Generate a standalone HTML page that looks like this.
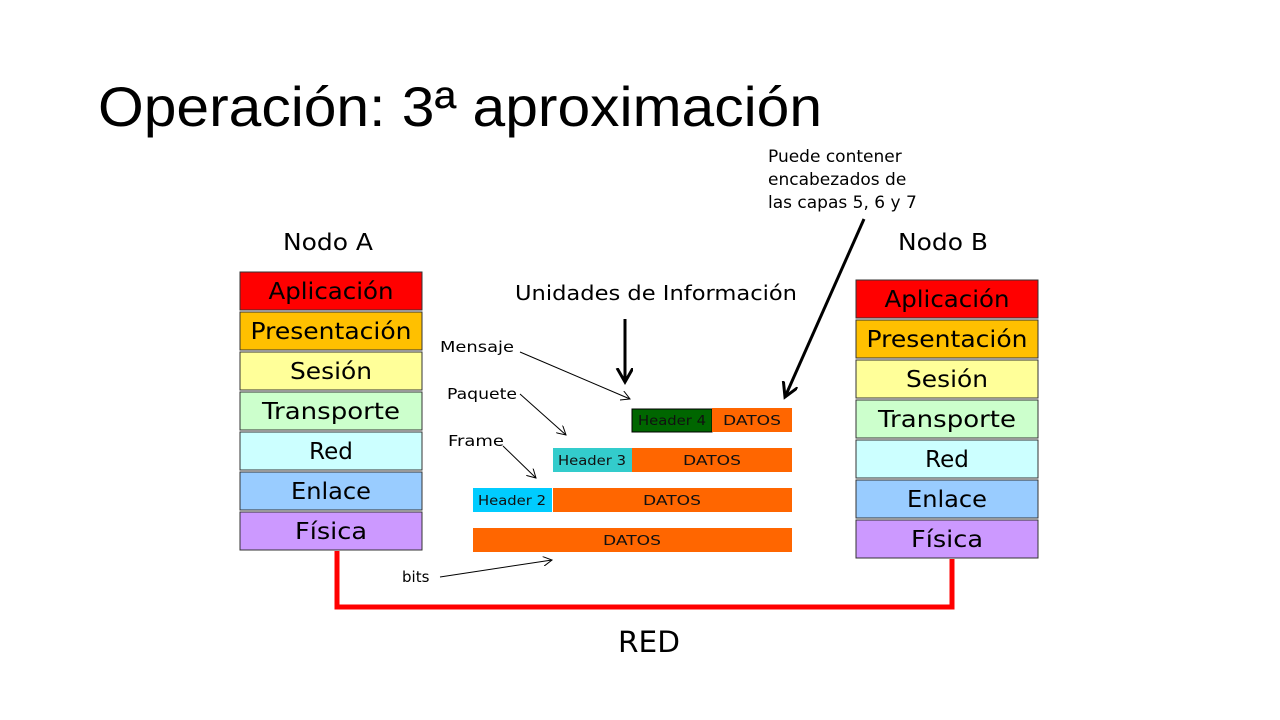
<!DOCTYPE html>
<html><head><meta charset="utf-8"><style>
html,body{margin:0;padding:0;background:#fff;}
svg{display:block;font-family:"Liberation Sans",sans-serif;}
.l{font-family:"DejaVu Sans","Liberation Sans",sans-serif;}
</style></head><body>
<svg width="1280" height="720" viewBox="0 0 1280 720" xmlns="http://www.w3.org/2000/svg">
<defs>
<marker id="ah" markerWidth="10" markerHeight="10" refX="9" refY="5" orient="auto" markerUnits="userSpaceOnUse"><path d="M0,0 L9,5 L0,10" fill="none" stroke="#000" stroke-width="1"/></marker>
<marker id="ab" markerWidth="18" markerHeight="18" refX="14" refY="8" orient="auto" markerUnits="userSpaceOnUse"><path d="M0,0 L14,8 L0,16" fill="none" stroke="#000" stroke-width="3"/></marker>
</defs>
<text x="98" y="126" font-size="56" fill="#000" textLength="724" lengthAdjust="spacingAndGlyphs">Operación: 3ª aproximación</text>

<g class="l" font-size="17" fill="#000">
<text x="768" y="162">Puede contener</text>
<text x="768" y="185">encabezados de</text>
<text x="768" y="208">las capas 5, 6 y 7</text>
</g>
<g class="l" font-size="23" text-anchor="middle">
<text x="328" y="250" textLength="90" lengthAdjust="spacingAndGlyphs">Nodo A</text>
<text x="943" y="250" textLength="90" lengthAdjust="spacingAndGlyphs">Nodo B</text>
</g>
<text class="l" x="656" y="300" font-size="20" text-anchor="middle" textLength="282" lengthAdjust="spacingAndGlyphs">Unidades de Información</text>

<g stroke="#333" stroke-width="1">
<rect x="240" y="272" width="182" height="38" fill="#f00"/>
<rect x="240" y="312" width="182" height="38" fill="#ffc000"/>
<rect x="240" y="352" width="182" height="38" fill="#ffff99"/>
<rect x="240" y="392" width="182" height="38" fill="#ccffcc"/>
<rect x="240" y="432" width="182" height="38" fill="#ccffff"/>
<rect x="240" y="472" width="182" height="38" fill="#99ccff"/>
<rect x="240" y="512" width="182" height="38" fill="#cc99ff"/>
<rect x="856" y="280" width="182" height="38" fill="#f00"/>
<rect x="856" y="320" width="182" height="38" fill="#ffc000"/>
<rect x="856" y="360" width="182" height="38" fill="#ffff99"/>
<rect x="856" y="400" width="182" height="38" fill="#ccffcc"/>
<rect x="856" y="440" width="182" height="38" fill="#ccffff"/>
<rect x="856" y="480" width="182" height="38" fill="#99ccff"/>
<rect x="856" y="520" width="182" height="38" fill="#cc99ff"/>
</g>
<g class="l" font-size="23" text-anchor="middle" fill="#000">
<text x="331" y="299" textLength="125" lengthAdjust="spacingAndGlyphs">Aplicación</text>
<text x="331" y="339" textLength="161" lengthAdjust="spacingAndGlyphs">Presentación</text>
<text x="331" y="379" textLength="82" lengthAdjust="spacingAndGlyphs">Sesión</text>
<text x="331" y="419" textLength="138" lengthAdjust="spacingAndGlyphs">Transporte</text>
<text x="331" y="459">Red</text>
<text x="331" y="499" textLength="80" lengthAdjust="spacingAndGlyphs">Enlace</text>
<text x="331" y="539" textLength="72" lengthAdjust="spacingAndGlyphs">Física</text>
<text x="947" y="307" textLength="125" lengthAdjust="spacingAndGlyphs">Aplicación</text>
<text x="947" y="347" textLength="161" lengthAdjust="spacingAndGlyphs">Presentación</text>
<text x="947" y="387" textLength="82" lengthAdjust="spacingAndGlyphs">Sesión</text>
<text x="947" y="427" textLength="138" lengthAdjust="spacingAndGlyphs">Transporte</text>
<text x="947" y="467">Red</text>
<text x="947" y="507" textLength="80" lengthAdjust="spacingAndGlyphs">Enlace</text>
<text x="947" y="547" textLength="72" lengthAdjust="spacingAndGlyphs">Física</text>
</g>

<rect x="632" y="409" width="80" height="23" fill="#006600" stroke="#000" stroke-width="1"/>
<rect x="712" y="408" width="80" height="24" fill="#ff6600"/>
<rect x="553" y="448" width="79" height="24" fill="#33cccc"/>
<rect x="632" y="448" width="160" height="24" fill="#ff6600"/>
<rect x="473" y="488" width="79" height="24" fill="#00ccff"/>
<rect x="553" y="488" width="239" height="24" fill="#ff6600"/>
<rect x="473" y="528" width="319" height="24" fill="#ff6600"/>
<g class="l" font-size="13" text-anchor="middle" fill="#111">
<text x="672" y="425" textLength="68" lengthAdjust="spacingAndGlyphs">Header 4</text>
<text x="752" y="425" textLength="58" lengthAdjust="spacingAndGlyphs">DATOS</text>
<text x="592" y="465" textLength="68" lengthAdjust="spacingAndGlyphs">Header 3</text>
<text x="712" y="465" textLength="58" lengthAdjust="spacingAndGlyphs">DATOS</text>
<text x="512" y="505" textLength="68" lengthAdjust="spacingAndGlyphs">Header 2</text>
<text x="672" y="505" textLength="58" lengthAdjust="spacingAndGlyphs">DATOS</text>
<text x="632" y="545" textLength="58" lengthAdjust="spacingAndGlyphs">DATOS</text>
</g>

<g class="l" font-size="15" fill="#000">
<text x="440" y="352" textLength="74" lengthAdjust="spacingAndGlyphs">Mensaje</text>
<text x="447" y="399" textLength="70" lengthAdjust="spacingAndGlyphs">Paquete</text>
<text x="448" y="446" textLength="56" lengthAdjust="spacingAndGlyphs">Frame</text>
<text x="402" y="582">bits</text>
</g>
<g stroke="#000" stroke-width="1" fill="none" marker-end="url(#ah)">
<line x1="520" y1="352" x2="630" y2="399"/>
<line x1="520" y1="394" x2="566" y2="435"/>
<line x1="503" y1="446" x2="536" y2="478"/>
<line x1="440" y1="577" x2="552" y2="560"/>
</g>
<g stroke="#000" stroke-width="3" fill="none" marker-end="url(#ab)">
<line x1="625" y1="319" x2="625" y2="382"/>
<line x1="864" y1="219" x2="785" y2="397"/>
</g>

<path d="M337,551 V607 H952 V559" fill="none" stroke="#f00" stroke-width="5"/>
<text class="l" x="649" y="652" font-size="29" text-anchor="middle" textLength="62" lengthAdjust="spacingAndGlyphs">RED</text>
</svg>
</body></html>
